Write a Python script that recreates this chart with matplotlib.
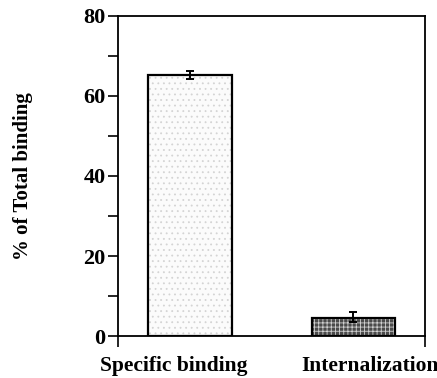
import matplotlib.pyplot as plt
from matplotlib.ticker import MultipleLocator

categories = ["Specific binding", "Internalization"]
values = [65.2, 4.6]
err_low = [1.0, 1.0]
err_high = [1.0, 1.3]

plt.rcParams["font.family"] = ["Liberation Serif", "DejaVu Serif"]
plt.rcParams["font.weight"] = "bold"
plt.rcParams["hatch.linewidth"] = 0.6

fig = plt.figure(figsize=(4.37, 3.78), dpi=100)
ax = fig.add_axes([0.270, 0.111, 0.703, 0.847])

x = range(len(categories))
fills = ["#fbfbfb", "#4a4a4a"]
hatch_colors = ["#d4d4d4", "#d0d0d0"]
hatches = ["...", "++++"]

# fill with hatch first, then a clean black outline on top
for xi, v, fc, hc, h in zip(x, values, fills, hatch_colors, hatches):
    ax.bar(xi, v, width=0.51, color=fc, edgecolor=hc, hatch=h, linewidth=0, zorder=2)
ax.bar(x, values, width=0.51, facecolor="none", edgecolor="black", linewidth=1.6, zorder=3)

ax.errorbar(x, values, yerr=[err_low, err_high], fmt="none", ecolor="black",
            elinewidth=1.4, capsize=3, capthick=1.4, zorder=4)

ax.set_xlim(-0.44, 1.44)
ax.set_ylim(0, 80)
ax.yaxis.set_major_locator(MultipleLocator(20))
ax.yaxis.set_minor_locator(MultipleLocator(10))
ax.set_xticks([-0.44, 1.44])
ax.set_xticklabels([])
ax.tick_params(axis="x", length=8, width=1.2, direction="out")
ax.tick_params(axis="y", which="major", length=7, width=1.2, direction="out", labelsize=16, pad=2)
ax.tick_params(axis="y", which="minor", length=7, width=1.2, direction="out")

for s in ax.spines.values():
    s.set_linewidth(1.3)

# category labels sit a little off the bar centres, as in the original
label_shift = [-0.1, 0.1]
for xi, lab, dx in zip(x, categories, label_shift):
    ax.text(xi + dx, -5.0, lab, ha="center", va="top", fontsize=15.5, fontweight="bold",
            transform=ax.transData, clip_on=False)

ax.set_ylabel("% of Total binding", fontsize=15, fontweight="bold", labelpad=36)

fig.savefig("out.png", dpi=100)
